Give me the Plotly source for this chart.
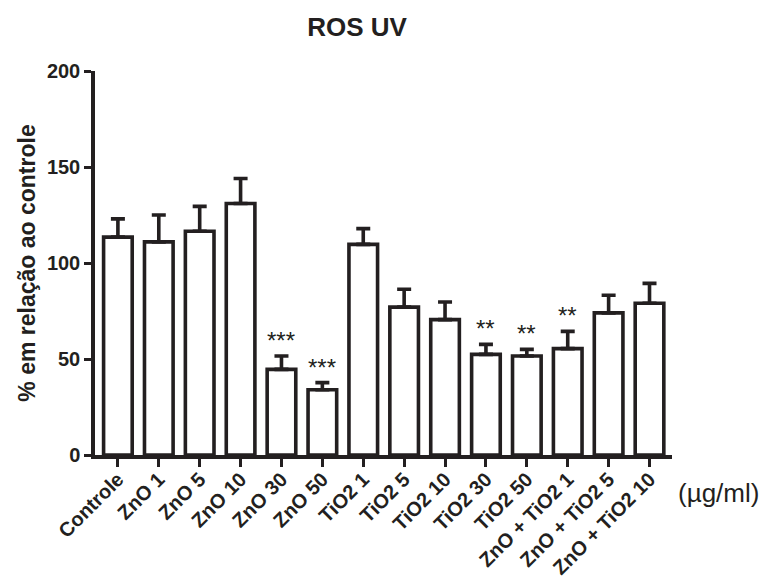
import plotly.graph_objects as go

categories = ["Controle", "ZnO 1", "ZnO 5", "ZnO 10", "ZnO 30", "ZnO 50",
              "TiO2 1", "TiO2 5", "TiO2 10", "TiO2 30", "TiO2 50",
              "ZnO + TiO2 1", "ZnO + TiO2 5", "ZnO + TiO2 10"]
means = [113.5, 111, 116.5, 131, 44.6, 34, 109.7, 77, 70.5, 52.4, 51.6, 55.4, 74, 79]
errors = [9.5, 14, 13, 13, 7, 3.7, 8.2, 9.3, 9.2, 5.2, 3.4, 9, 9.2, 10.4]
stars = ["", "", "", "", "***", "***", "", "", "", "**", "**", "**", "", ""]
yticks = [0, 50, 100, 150, 200]

INK = "#231f20"
FONT = "Liberation Sans, Arial, sans-serif"

fig = go.Figure()
fig.add_trace(go.Bar(
    x=list(range(len(categories))),
    y=means,
    width=0.7,
    marker=dict(color="white", line=dict(color=INK, width=3.6)),
    error_y=dict(type="data", symmetric=False, array=errors,
                 arrayminus=[0] * len(errors), color=INK, thickness=3.6, width=7),
    showlegend=False,
))

for i, s in enumerate(stars):
    if s:
        fig.add_annotation(x=i, y=means[i] + errors[i], text=s, showarrow=False,
                           yanchor="bottom", yshift=0,
                           font=dict(family=FONT, size=24, color=INK))

fig.add_annotation(xref="paper", yref="paper", x=1.0, xshift=4, y=-0.1,
                   xanchor="left", yanchor="middle", text="(\u00b5g/ml)",
                   showarrow=False,
                   font=dict(family=FONT, size=26, color=INK))

fig.update_layout(
    width=767, height=587,
    margin=dict(l=95, r=95, t=71, b=132),
    paper_bgcolor="white", plot_bgcolor="white",
    title=dict(text="<b>ROS UV</b>", x=0.4655, xref="container", xanchor="center",
               y=0.955, yref="container", yanchor="middle", automargin=False,
               font=dict(family=FONT, size=26, color=INK)),
    bargap=0.3,
)
fig.update_xaxes(
    range=[-0.56, 13.55], automargin=False,
    tickmode="array", tickvals=list(range(len(categories))),
    ticktext=["<b>%s</b>" % c for c in categories],
    tickangle=-45, ticklabelstandoff=-7,
    tickfont=dict(family=FONT, size=20, color=INK),
    showline=True, linecolor=INK, linewidth=3.5,
    ticks="outside", ticklen=8, tickwidth=2.5, tickcolor=INK,
    showgrid=False, zeroline=False,
)
fig.update_yaxes(
    range=[0, 200], automargin=False,
    tickmode="array", tickvals=yticks, ticktext=["<b>%d</b>" % t for t in yticks],
    tickfont=dict(family=FONT, size=20, color=INK),
    title=dict(text="<b>% em relação ao controle</b>", standoff=6,
               font=dict(family=FONT, size=23, color=INK)),
    showline=True, linecolor=INK, linewidth=3.5,
    ticks="outside", ticklen=7, tickwidth=3, tickcolor=INK,
    showgrid=False, zeroline=False,
)

fig.write_html("out.html", config={"displayModeBar": False},
               post_script="document.body.style.margin='0';")
